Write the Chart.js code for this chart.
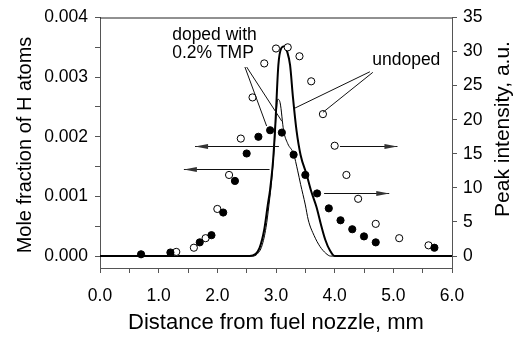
<!DOCTYPE html>
<html>
<head>
<meta charset="utf-8">
<script src="https://cdn.jsdelivr.net/npm/chart.js@4.4.0/dist/chart.umd.min.js"></script>
<style>
    body { margin: 0; background: #fff; }
</style>
</head>
<body>
<canvas id="hChart" width="524" height="337"></canvas>
<script>
// H atom mole fraction (left axis)
var undopedX = [1.3, 1.6, 1.8, 2.0, 2.2, 2.4, 2.6, 2.8, 3.0, 3.2, 3.4, 3.6, 3.8, 4.0, 4.2, 4.4, 4.7, 5.1, 5.6];
var undopedH = [0.00007, 0.00014, 0.0003, 0.00079, 0.00136, 0.00197, 0.00266, 0.00323, 0.00348, 0.0035, 0.00335, 0.00293, 0.00238, 0.00185, 0.00136, 0.00096, 0.00054, 0.0003, 0.00018];
var dopedX = [0.7, 1.2, 1.7, 1.9, 2.1, 2.3, 2.5, 2.7, 2.9, 3.1, 3.3, 3.5, 3.7, 3.9, 4.1, 4.3, 4.5, 4.7, 5.7];
var dopedH = [0.00003, 0.00006, 0.00023, 0.00035, 0.00073, 0.00126, 0.00172, 0.002, 0.00211, 0.00207, 0.0017, 0.00136, 0.00105, 0.0008, 0.0006, 0.00045, 0.00033, 0.00023, 0.00014];

// peak intensity profiles (right axis)
var peakUndopedX = [0, 2.55, 2.65, 2.72, 2.8, 2.86, 2.9, 2.95, 2.99, 3.04, 3.09, 3.14, 3.19, 3.24, 3.29, 3.35, 3.42, 3.52, 3.6, 3.69, 3.77, 3.84, 3.92, 4.0, 6.0];
var peakUndoped = [0, 0, 0.3, 1.2, 3.9, 7.5, 9.8, 14, 19.5, 28, 30.5, 30.8, 30, 28, 23.2, 18.4, 14.8, 12, 9.5, 7.2, 4.5, 2.4, 0.8, 0, 0];
var peakDopedX = [0, 2.6, 2.68, 2.76, 2.83, 2.88, 2.93, 2.97, 3.0, 3.03, 3.07, 3.13, 3.2, 3.3, 3.37, 3.42, 3.5, 3.55, 3.65, 3.75, 3.85, 3.93, 6.0];
var peakDoped = [0, 0, 0.3, 1.5, 4.2, 7.5, 11.5, 16, 20.5, 23, 22.5, 18.4, 16.5, 15, 12.5, 10.5, 7.5, 5.3, 3, 1.4, 0.4, 0, 0];

// tick values
var xTicks = [0, 0.5, 1, 1.5, 2, 2.5, 3, 3.5, 4, 4.5, 5, 5.5, 6];
var hTicks = [0, 0.0005, 0.001, 0.0015, 0.002, 0.0025, 0.003, 0.0035, 0.004];
var peakTicks = [0, 5, 10, 15, 20, 25, 30, 35];

// annotation text and pointers, in data units of x / left axis
var noteText = ["doped with", "0.2% TMP", "undoped"];
var noteX = [1.23, 1.23, 4.64];
var noteY = [0.00362, 0.00332, 0.00321];
var pointerFrom = [[2.47, 0.00317], [2.50, 0.00317], [4.60, 0.00309], [4.65, 0.00308]];
var pointerTo = [[2.84, 0.00218], [3.10, 0.00226], [3.32, 0.00248], [3.80, 0.00241]];
var arrowFrom = [[3.05, 0.00185], [2.89, 0.00146], [4.09, 0.00184], [3.82, 0.00105]];
var arrowTo = [[1.62, 0.00185], [1.43, 0.00146], [5.07, 0.00184], [4.93, 0.00105]];

function toPoints(xs, ys) {
    var pts = [];
    for (var i = 0; i < xs.length; ++i) {
        pts.push({ x: xs[i], y: ys[i] });
    }
    return pts;
}

function setTicks(values) {
    return function (scale) {
        scale.ticks = values.map(function (v) { return { value: v }; });
    };
}

function rotatedText(ctx, text, cx, cy) {
    ctx.save();
    ctx.translate(cx, cy);
    ctx.rotate(-Math.PI / 2);
    ctx.fillText(text, 0, 0);
    ctx.restore();
}

Chart.defaults.font.family = "'Liberation Sans', Arial, sans-serif";
Chart.defaults.color = "#000";

var decorations = {
    id: "decorations",
    afterDatasetsDraw: function (chart) {
        var ctx = chart.ctx;
        var x = chart.scales.x;
        var y = chart.scales.y;
        var area = chart.chartArea;
        ctx.save();

        // top frame line
        ctx.strokeStyle = "#222";
        ctx.lineWidth = 1;
        ctx.beginPath();
        ctx.moveTo(area.left, area.top + 0.5);
        ctx.lineTo(area.right, area.top + 0.5);
        ctx.stroke();

        // labels
        ctx.fillStyle = "#000";
        ctx.font = "17.5px 'Liberation Sans', Arial, sans-serif";
        ctx.textBaseline = "alphabetic";
        ctx.textAlign = "left";
        for (var i = 0; i < noteText.length; ++i) {
            ctx.fillText(noteText[i], x.getPixelForValue(noteX[i]), y.getPixelForValue(noteY[i]));
        }

        // pointer lines
        ctx.strokeStyle = "#111";
        ctx.lineWidth = 1;
        for (var i = 0; i < pointerFrom.length; ++i) {
            ctx.beginPath();
            ctx.moveTo(x.getPixelForValue(pointerFrom[i][0]), y.getPixelForValue(pointerFrom[i][1]));
            ctx.lineTo(x.getPixelForValue(pointerTo[i][0]), y.getPixelForValue(pointerTo[i][1]));
            ctx.stroke();
        }

        // horizontal arrows
        for (var i = 0; i < arrowFrom.length; ++i) {
            var x0 = x.getPixelForValue(arrowFrom[i][0]);
            var x1 = x.getPixelForValue(arrowTo[i][0]);
            var yy = Math.round(y.getPixelForValue(arrowFrom[i][1])) + 0.5;
            var dir = x1 > x0 ? 1 : -1;
            ctx.beginPath();
            ctx.moveTo(x0, yy);
            ctx.lineTo(x1, yy);
            ctx.stroke();
            ctx.fillStyle = "#333";
            ctx.beginPath();
            ctx.moveTo(x1, yy);
            ctx.lineTo(x1 - dir * 13, yy - 2.5);
            ctx.lineTo(x1 - dir * 13, yy + 2.5);
            ctx.closePath();
            ctx.fill();
        }

        // axis titles reading upwards
        ctx.fillStyle = "#000";
        ctx.textAlign = "center";
        ctx.textBaseline = "middle";
        ctx.font = "20px 'Liberation Sans', Arial, sans-serif";
        rotatedText(ctx, "Mole fraction of H atoms", 25, 145);
        ctx.font = "21px 'Liberation Sans', Arial, sans-serif";
        rotatedText(ctx, "Peak intensity, a.u.", 503, 129);
        ctx.restore();
    }
};

new Chart("hChart", {
    type: "scatter",
    data: {
        datasets: [{
            label: "undoped H",
            data: toPoints(undopedX, undopedH),
            yAxisID: "y",
            pointRadius: 3.6,
            pointBackgroundColor: "#fff",
            pointBorderColor: "#000",
            pointBorderWidth: 1,
            order: 1
        }, {
            label: "doped H",
            data: toPoints(dopedX, dopedH),
            yAxisID: "y",
            pointRadius: 3.6,
            pointBackgroundColor: "#000",
            pointBorderColor: "#000",
            pointBorderWidth: 1,
            order: 0
        }, {
            type: "line",
            label: "undoped peak",
            data: toPoints(peakUndopedX, peakUndoped),
            yAxisID: "y2",
            borderColor: "#000",
            borderWidth: 2,
            pointRadius: 0,
            cubicInterpolationMode: "monotone",
            fill: false,
            order: 3
        }, {
            type: "line",
            label: "doped peak",
            data: toPoints(peakDopedX, peakDoped),
            yAxisID: "y2",
            borderColor: "#000",
            borderWidth: 1,
            pointRadius: 0,
            cubicInterpolationMode: "monotone",
            fill: false,
            order: 2
        }]
    },
    options: {
        responsive: false,
        animation: false,
        layout: {
            padding: { top: 15, left: 0, right: 0, bottom: 0 }
        },
        plugins: {
            legend: { display: false },
            tooltip: { enabled: false }
        },
        scales: {
            x: {
                type: "linear",
                min: 0,
                max: 6,
                afterBuildTicks: setTicks(xTicks),
                afterFit: function (scale) { scale.height = 69; },
                grid: { drawOnChartArea: false, drawTicks: true, tickLength: 5, color: "#555" },
                border: { color: "#555", width: 1 },
                ticks: {
                    padding: 13,
                    maxRotation: 0,
                    autoSkip: false,
                    font: { size: 17.5 },
                    callback: function (value) {
                        return Number.isInteger(value) ? value.toFixed(1) : "";
                    }
                },
                title: {
                    display: true,
                    text: "Distance from fuel nozzle, mm",
                    font: { size: 22 },
                    padding: { top: 0, bottom: 1 }
                }
            },
            y: {
                position: "left",
                min: -0.0002,
                max: 0.004,
                afterBuildTicks: setTicks(hTicks),
                afterFit: function (scale) { scale.width = 100; },
                grid: { drawOnChartArea: false, drawTicks: true, tickLength: 5, color: "#555" },
                border: { color: "#555", width: 1 },
                ticks: {
                    padding: 7,
                    autoSkip: false,
                    font: { size: 17.5 },
                    callback: function (value) {
                        var k = value * 1000;
                        return Math.abs(k - Math.round(k)) < 1e-6 ? value.toFixed(3) : "";
                    }
                }
            },
            y2: {
                position: "right",
                min: -1.75,
                max: 35,
                afterBuildTicks: setTicks(peakTicks),
                afterFit: function (scale) { scale.width = 72; },
                grid: { drawOnChartArea: false, drawTicks: true, tickLength: 5, color: "#555" },
                border: { color: "#555", width: 1 },
                ticks: {
                    padding: 6,
                    autoSkip: false,
                    font: { size: 17.5 }
                }
            }
        }
    },
    plugins: [decorations]
});
</script>
</body>
</html>
